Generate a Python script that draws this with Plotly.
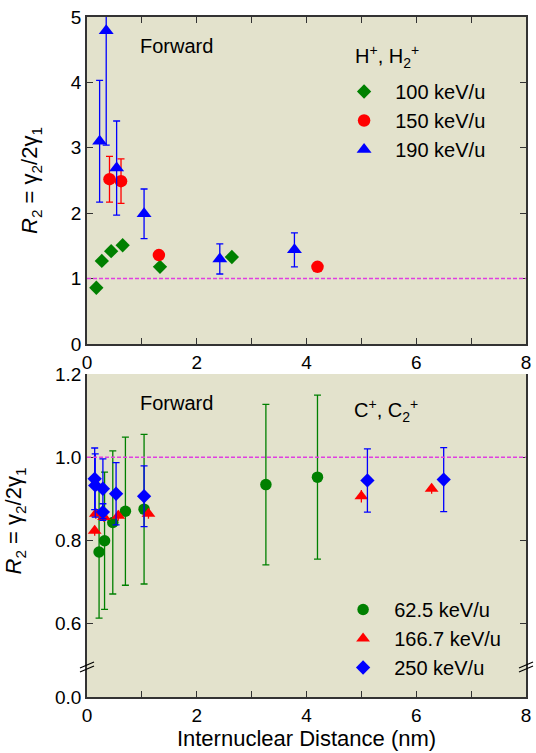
import plotly.graph_objects as go

# ---------------- data: top panel (H+, H2+) ----------------
h100_x = [0.17, 0.27, 0.44, 0.65, 1.33, 2.64]
h100_y = [0.86, 1.27, 1.42, 1.51, 1.18, 1.33]

h150_x = [0.41, 0.62, 1.31, 4.20]
h150_y = [2.52, 2.49, 1.36, 1.18]
h150_err = [0.35, 0.34, 0.0, 0.0]

h190_x = [0.23, 0.35, 0.54, 1.04, 2.42, 3.78]
h190_y = [3.10, 4.79, 2.69, 1.99, 1.30, 1.44]
h190_err = [0.93, 1.75, 0.72, 0.38, 0.23, 0.26]

# ---------------- data: bottom panel (C+, C2+) ----------------
c62_x = [0.22, 0.32, 0.47, 0.70, 1.04, 3.26, 4.20]
c62_y = [0.772, 0.799, 0.843, 0.870, 0.875, 0.934, 0.952]
c62_err = [0.159, 0.165, 0.172, 0.178, 0.180, 0.193, 0.197]

c166_x = [0.14, 0.16, 0.31, 0.57, 1.12, 5.00, 6.28]
c166_y = [0.823, 0.864, 0.856, 0.859, 0.864, 0.906, 0.924]
c166_err = [0.012, 0.012, 0.012, 0.012, 0.012, 0.015, 0.012]

c250_x = [0.14, 0.15, 0.29, 0.29, 0.53, 1.04, 5.11, 6.50]
c250_y = [0.948, 0.932, 0.924, 0.868, 0.912, 0.906, 0.944, 0.946]
c250_err = [0.074, 0.076, 0.072, 0.020, 0.075, 0.073, 0.076, 0.077]

REF_LEVEL = 1.0
x_ticks = [0, 2, 4, 6, 8]
top_y_ticks = [0, 1, 2, 3, 4, 5]
bot_y_ticks = [0.6, 0.8, 1.0, 1.2]
bot_y_ticklabels = ["0.6", "0.8", "1.0", "1.2"]

GREEN = "#008000"
RED = "#ff0000"
BLUE = "#0000ff"
BG = "#e3e2cc"
FONT = "Liberation Sans, Arial, sans-serif"
TICKFONT = dict(family=FONT, size=19, color="black")
LEGFONT = dict(family=FONT, size=20, color="black")
PAD = "\u00a0\u00a0"

fig = go.Figure()

def err(arr, color):
    return dict(type="data", array=arr, visible=True, color=color, thickness=1.3, width=3.5)

# top panel
fig.add_trace(go.Scatter(x=h100_x, y=h100_y, mode="markers", name=PAD + "100 keV/u",
                         marker=dict(symbol="diamond", size=11, color=GREEN),
                         xaxis="x", yaxis="y", legend="legend"))
fig.add_trace(go.Scatter(x=h150_x, y=h150_y, mode="markers", name=PAD + "150 keV/u",
                         marker=dict(symbol="circle", size=12.5, color=RED),
                         error_y=err(h150_err, RED),
                         xaxis="x", yaxis="y", legend="legend"))
fig.add_trace(go.Scatter(x=h190_x, y=h190_y, mode="markers", name=PAD + "190 keV/u",
                         marker=dict(symbol="triangle-up", size=13, color=BLUE),
                         error_y=err(h190_err, BLUE),
                         xaxis="x", yaxis="y", legend="legend"))

# bottom panel
fig.add_trace(go.Scatter(x=c62_x, y=c62_y, mode="markers", name=PAD + "62.5 keV/u",
                         marker=dict(symbol="circle", size=11.5, color=GREEN),
                         error_y=err(c62_err, GREEN),
                         xaxis="x2", yaxis="y2", legend="legend2"))
fig.add_trace(go.Scatter(x=c166_x, y=c166_y, mode="markers", name=PAD + "166.7 keV/u",
                         marker=dict(symbol="triangle-up", size=12, color=RED),
                         error_y=dict(type="data", array=c166_err, visible=True, color=RED,
                                      thickness=1.3, width=0),
                         xaxis="x2", yaxis="y2", legend="legend2"))
fig.add_trace(go.Scatter(x=c250_x, y=c250_y, mode="markers", name=PAD + "250 keV/u",
                         marker=dict(symbol="diamond", size=11, color=BLUE),
                         error_y=err(c250_err, BLUE),
                         xaxis="x2", yaxis="y2", legend="legend2"))
# empty trace to create the lower (broken) segment subplot
fig.add_trace(go.Scatter(x=[], y=[], mode="markers", showlegend=False,
                         xaxis="x2", yaxis="y3"))

# reference lines
for yref, xref in [("y", "x"), ("y2", "x2")]:
    fig.add_shape(type="line", xref=xref + " domain", yref=yref, x0=0, x1=1,
                  y0=REF_LEVEL, y1=REF_LEVEL,
                  line=dict(color="#e040e0", width=1.5, dash="4px,2px"), layer="above")

H = 753
T, B = 17, 56
PH = H - T - B
def fy(py):
    return (H - B - py) / PH

TOP_DOM = [fy(344), 1.0]
BOT_DOM = [fy(668), fy(374)]
LOW_DOM = [0.0, fy(668)]

common_x = dict(range=[0, 8], tickvals=x_ticks, ticks="inside", ticklen=6, tickwidth=1.2,
                showline=True, linecolor="#333", linewidth=1.5, showgrid=False, zeroline=False,
                tickfont=TICKFONT, minor=dict(dtick=1, tick0=0, ticks="inside", ticklen=6,
                                              tickwidth=1.2, tickcolor="#333"),
                tickcolor="#333")
common_y = dict(ticks="inside", ticklen=6, tickwidth=1.2, showline=True, linecolor="#333",
                linewidth=1.5, showgrid=False, zeroline=False, tickfont=TICKFONT,
                tickcolor="#333", mirror="ticks")

ytitle = "<i>R</i><sub>2</sub> = γ<sub>2</sub>/2γ<sub>1</sub>"
YTFONT = dict(family=FONT, size=22)

fig.update_layout(
    width=536, height=753,
    margin=dict(l=87, r=5, t=T, b=B),
    paper_bgcolor="white", plot_bgcolor=BG,
    font=dict(family=FONT, color="black"),
    xaxis=dict(common_x, anchor="y", mirror="ticks", domain=[0, 1]),
    yaxis=dict(common_y, range=[0, 5], tickvals=top_y_ticks, domain=TOP_DOM, anchor="x",
               title=dict(text=ytitle, font=YTFONT, standoff=27)),
    xaxis2=dict(common_x, anchor="y3", domain=[0, 1],
                title=dict(text="Internuclear Distance (nm)", font=dict(family=FONT, size=22),
                           standoff=5)),
    xaxis3=dict(common_x, anchor="y2", overlaying="x2", side="top", showticklabels=False),
    yaxis2=dict(common_y, range=[0.493, 1.2], tickvals=bot_y_ticks, ticktext=bot_y_ticklabels,
                domain=BOT_DOM, anchor="x2",
                title=dict(text=ytitle, font=YTFONT, standoff=27)),
    yaxis3=dict(common_y, range=[0, 0.07], tickvals=[0], ticktext=["0.0"], domain=LOW_DOM,
                anchor="x2"),
    legend=dict(x=(347 - 87) / 444, y=fy(72), xanchor="left", yanchor="top",
                bgcolor="rgba(0,0,0,0)", font=LEGFONT, itemsizing="trace",
                tracegroupgap=0),
    legend2=dict(x=(346 - 87) / 444, y=fy(590), xanchor="left", yanchor="top",
                 bgcolor="rgba(0,0,0,0)", font=LEGFONT, itemsizing="trace",
                 tracegroupgap=0),
    showlegend=True,
)

# text labels
fig.add_annotation(text="Forward", xref="paper", yref="paper", x=(139 - 87) / 444, y=fy(46),
                   xanchor="left", yanchor="middle", showarrow=False,
                   font=dict(family=FONT, size=20))
fig.add_annotation(text="Forward", xref="paper", yref="paper", x=(139 - 87) / 444, y=fy(403),
                   xanchor="left", yanchor="middle", showarrow=False,
                   font=dict(family=FONT, size=20))
fig.add_annotation(text="H<sup>+</sup>, H<sub>2</sub><sup>+</sup>", xref="paper", yref="paper",
                   x=(356 - 87) / 444, y=fy(56), xanchor="left", yanchor="middle",
                   showarrow=False, font=dict(family=FONT, size=20))
fig.add_annotation(text="C<sup>+</sup>, C<sub>2</sub><sup>+</sup>", xref="paper", yref="paper",
                   x=(355 - 87) / 444, y=fy(411), xanchor="left", yanchor="middle",
                   showarrow=False, font=dict(family=FONT, size=20))

# axis break marks
for xa in [0, 1]:
    for off in [0, 4]:
        fig.add_shape(type="line", xref="paper", yref="paper", xsizemode="pixel",
                      ysizemode="pixel", xanchor=xa, yanchor=LOW_DOM[1],
                      x0=-7, x1=7, y0=-4 + off, y1=2 + off,
                      line=dict(color="black", width=1.2), layer="above")

fig.write_html("out.html")
